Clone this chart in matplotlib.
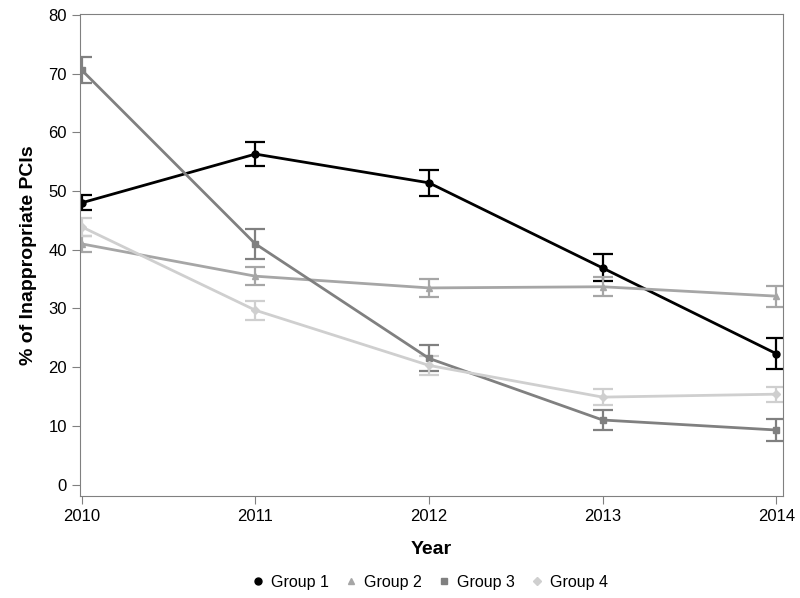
import matplotlib.pyplot as plt
import numpy as np

plt.rcParams['font.family'] = ['Liberation Sans', 'DejaVu Sans']

years = [2010, 2011, 2012, 2013, 2014]
groups = ['Group 1', 'Group 2', 'Group 3', 'Group 4']
g1 = [48.0, 56.3, 51.4, 36.9, 22.3]
g1_err = [1.3, 2.1, 2.2, 2.3, 2.6]
g2 = [41.0, 35.5, 33.5, 33.7, 32.1]
g2_err = [1.3, 1.5, 1.6, 1.6, 1.8]
g3 = [70.6, 41.0, 21.5, 11.0, 9.3]
g3_err = [2.2, 2.5, 2.2, 1.7, 1.8]
g4 = [43.9, 29.7, 20.3, 14.9, 15.4]
g4_err = [1.5, 1.6, 1.6, 1.4, 1.3]

values = [g1, g2, g3, g4]
errors = [g1_err, g2_err, g3_err, g4_err]
colors = ['#000000', '#a6a6a6', '#808080', '#cfcfcf']
markers = ['o', '^', 's', 'D']
msizes = [5, 5, 4.5, 4.5]

fig = plt.figure(figsize=(8, 5.98), dpi=100)
ax = fig.add_axes([0.1, 0.171, 0.879, 0.806])

for name, v, e, c, m, ms in zip(groups, values, errors, colors, markers, msizes):
    ax.errorbar(years, v, yerr=e, color=c, marker=m, markersize=ms,
                linewidth=2, elinewidth=1.6, capsize=7, capthick=1.6, label=name)

ax.set_xlim(2009.99, 2014.04)
ax.set_ylim(-1.9, 80.2)
ax.set_xticks(years)
ax.set_yticks(np.arange(0, 81, 10))
ax.tick_params(labelsize=12, color='#808080', length=6)
for s in ax.spines.values():
    s.set_color('#808080')

ax.set_xlabel('Year', fontsize=14, fontweight='bold', labelpad=12)
ax.set_ylabel('% of Inappropriate PCIs', fontsize=14, fontweight='bold', labelpad=8)

handles = [plt.Line2D([], [], linestyle='none', marker=m, color=c, markersize=ms)
           for c, m, ms in zip(colors, markers, msizes)]
fig.legend(handles, groups, loc='lower center', ncol=4, frameon=False,
           fontsize=11.5, bbox_to_anchor=(0.536, -0.01), handletextpad=0.3,
           columnspacing=0.9, handlelength=1)

plt.savefig('out.png', dpi=100)
